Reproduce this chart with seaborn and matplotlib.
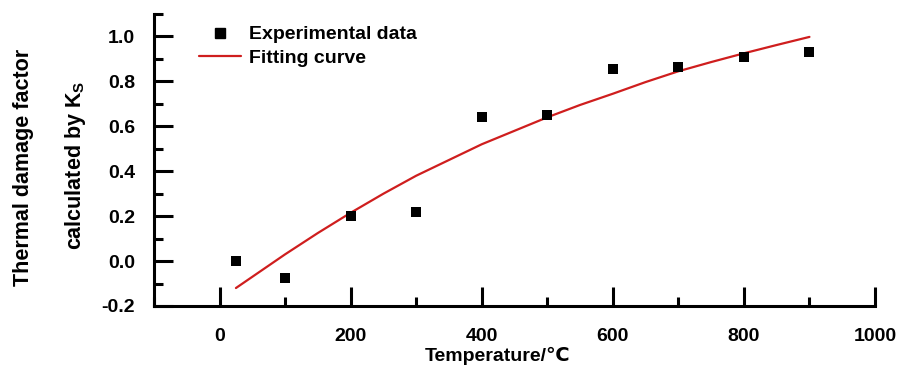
import matplotlib
matplotlib.use("Agg")
import matplotlib.pyplot as plt
import seaborn as sns
import pandas as pd
from matplotlib.ticker import MultipleLocator
from matplotlib.lines import Line2D

# Experimental data
exp_temp = [25, 100, 200, 300, 400, 500, 600, 700, 800, 900]
exp_damage = [0.0, -0.075, 0.20, 0.22, 0.64, 0.65, 0.855, 0.862, 0.908, 0.932]

# Fitting curve
fit_temp = [25, 50, 100, 150, 200, 250, 300, 350, 400, 450, 500, 550, 600, 650, 700, 750, 800, 850, 900]
fit_damage = [-0.12, -0.07, 0.03, 0.125, 0.215, 0.30, 0.38, 0.45, 0.52, 0.58, 0.64,
              0.695, 0.745, 0.797, 0.845, 0.886, 0.925, 0.962, 0.998]

x_ticks = [0, 200, 400, 600, 800, 1000]
y_ticks = [-0.2, 0.0, 0.2, 0.4, 0.6, 0.8, 1.0]

sns.set_theme(style="ticks")
plt.rcParams["font.family"] = ["Liberation Sans", "DejaVu Sans"]
plt.rcParams["font.weight"] = "bold"
plt.rcParams["text.color"] = "black"
plt.rcParams["axes.labelcolor"] = "black"
plt.rcParams["xtick.color"] = "black"
plt.rcParams["ytick.color"] = "black"
plt.rcParams["mathtext.fontset"] = "custom"
plt.rcParams["mathtext.rm"] = "Liberation Sans:bold"
plt.rcParams["mathtext.bf"] = "Liberation Sans:bold"

fig = plt.figure(figsize=(9.02, 3.69), dpi=100)
ax = fig.add_axes([154 / 902, 1 - 306 / 369, (875 - 154) / 902, (306 - 14) / 369])

df_exp = pd.DataFrame({"T": exp_temp, "D": exp_damage})
df_fit = pd.DataFrame({"T": fit_temp, "D": fit_damage})

red = "#cf1e1e"
sns.lineplot(data=df_fit, x="T", y="D", ax=ax, color=red, linewidth=1.6, legend=False)
sns.scatterplot(data=df_exp, x="T", y="D", ax=ax, marker="s", s=42, color="black",
                edgecolor="black", linewidth=0, legend=False, zorder=3)

ax.set_xlim(-100, 1000)
ax.set_ylim(-0.2, 1.1)
ax.set_xticks(x_ticks)
ax.set_yticks(y_ticks)
ax.set_yticklabels([f"{v:.1f}" for v in y_ticks])
ax.xaxis.set_minor_locator(MultipleLocator(100))
ax.yaxis.set_minor_locator(MultipleLocator(0.1))

for side in ["top", "right"]:
    ax.spines[side].set_visible(False)
for side in ["left", "bottom"]:
    ax.spines[side].set_linewidth(2.2)
    ax.spines[side].set_color("black")

ax.tick_params(which="major", direction="in", length=13.5, width=2.2, color="black",
               labelsize=14, labelcolor="black")
ax.tick_params(which="minor", direction="in", length=6.8, width=2.2, color="black")
ax.tick_params(axis="y", which="major", pad=13.5)
ax.tick_params(axis="x", which="major", pad=16)
for lab in ax.get_xticklabels() + ax.get_yticklabels():
    lab.set_fontweight("bold")

ax.set_xlabel("Temperature/℃", fontsize=14, fontweight="bold", color="black")
ax.xaxis.set_label_coords((498 - 154) / (875 - 154), -(347 - 306) / (306 - 14), transform=ax.transAxes)
ax.set_ylabel("")

fig.text(24 / 902, 1 - 167 / 369, "Thermal damage factor", rotation=90, ha="center", va="center",
         fontsize=15.5, fontweight="bold", color="black")
fig.text(76 / 902, 1 - 165 / 369, r"calculated by K$_\mathregular{S}$", rotation=90, ha="center",
         va="center", fontsize=15.5, fontweight="bold", color="black")

handles = [
    Line2D([], [], marker="s", linestyle="none", color="black", markersize=6.5),
    Line2D([], [], color=red, linewidth=1.6),
]
leg = ax.legend(handles, ["Experimental data", "Fitting curve"], loc="upper left",
                bbox_to_anchor=(0.051, 0.986), frameon=False, handlelength=2.2,
                handletextpad=0.4, labelspacing=0.3, borderaxespad=0,
                prop={"size": 14, "weight": "bold"})
for t in leg.get_texts():
    t.set_color("black")

fig.savefig("out.png", dpi=100, facecolor="white")
